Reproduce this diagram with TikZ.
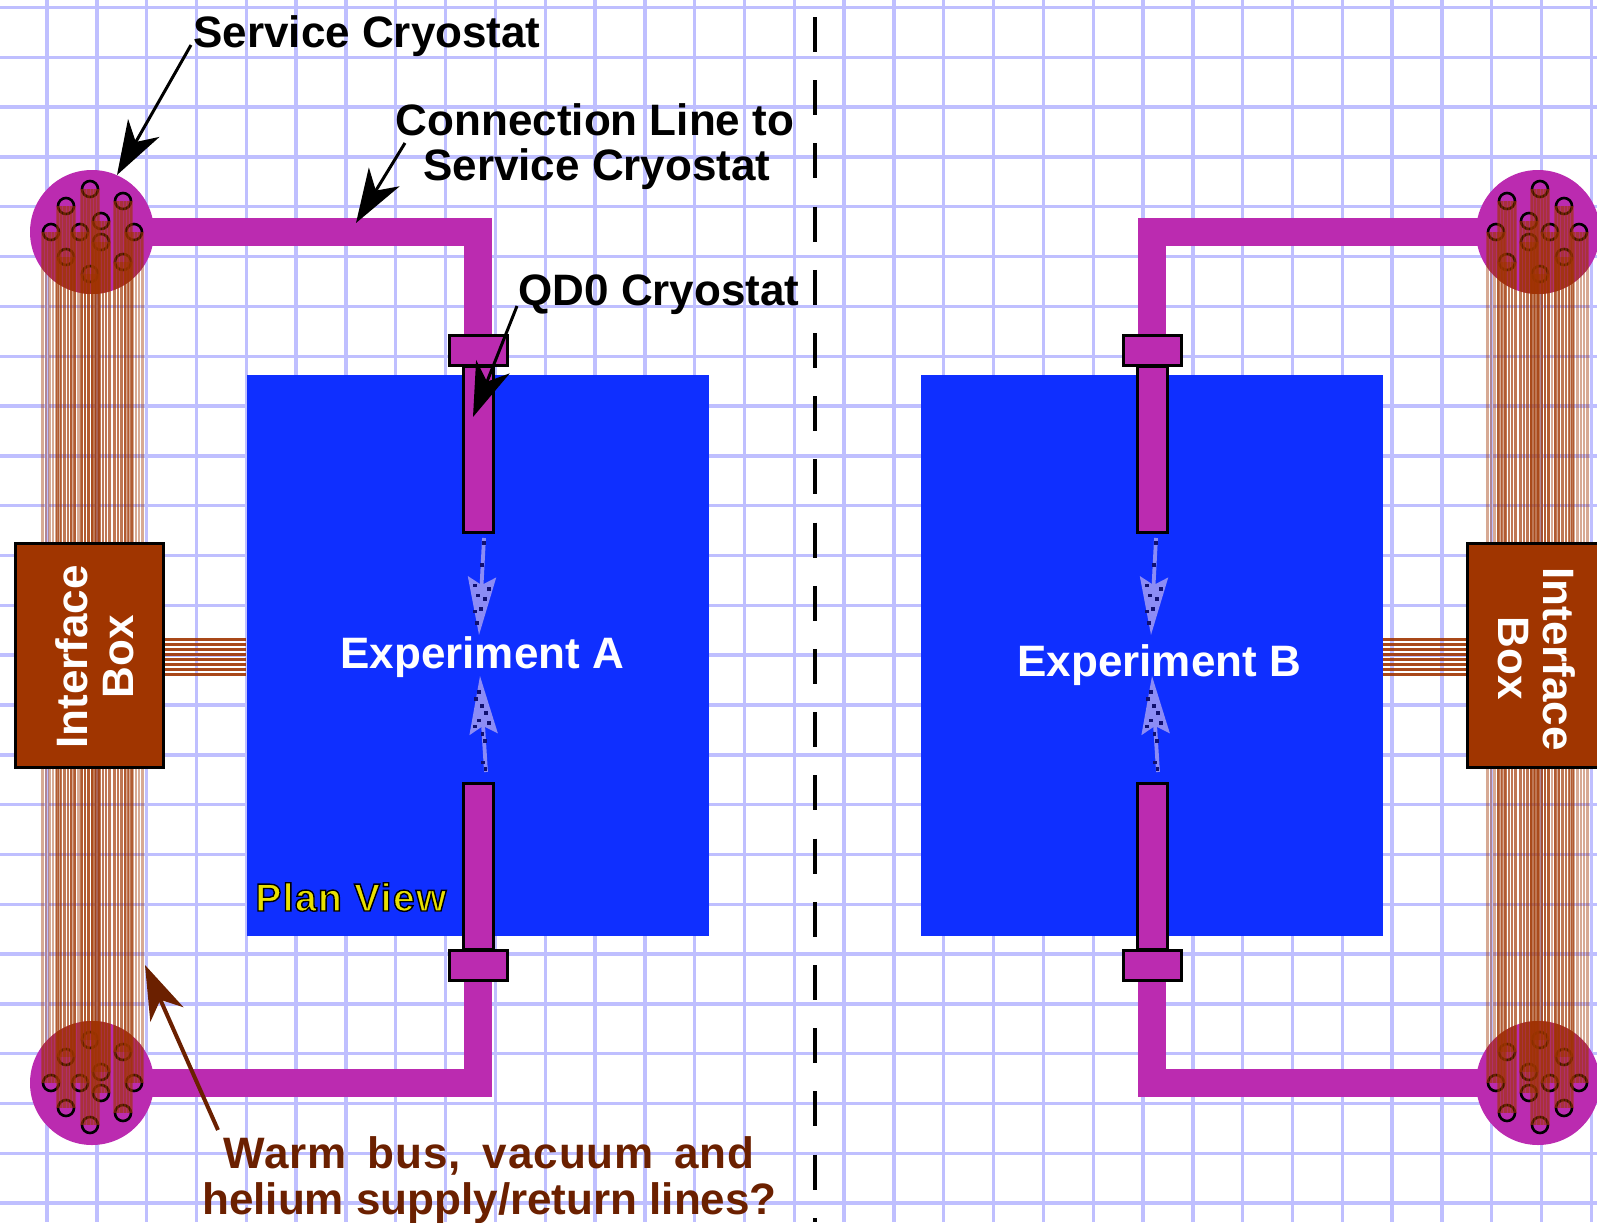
\documentclass[tikz,border=0pt]{standalone}
\usepackage{fontspec}
\setmainfont{Liberation Sans}
\newfontfamily\planfont[LetterSpace=3.5]{Liberation Sans}
\newfontfamily\warmfont[LetterSpace=2.2]{Liberation Sans}
\usetikzlibrary{arrows.meta}
\definecolor{gridc}{HTML}{BFBFFF}
\definecolor{expblue}{HTML}{0F2FFF}
\definecolor{cryo}{HTML}{BB2BB0}
\definecolor{ibox}{HTML}{A03500}
\definecolor{warm}{HTML}{6B2000}
\definecolor{pale}{HTML}{8C8CF5}
\definecolor{dotc}{HTML}{101070}
\definecolor{planyel}{HTML}{E8E000}
\pgfdeclarelayer{gridl}
\pgfdeclarelayer{pipel}
\pgfsetlayers{gridl,pipel,main}
\tikzset{
  gridline/.style={gridc,line width=1.7pt},
  expbox/.style={rectangle,fill=expblue,inner sep=0pt},
  pipe/.style={cryo,line width=14pt,line join=miter},
  hub/.style={circle,fill=cryo,inner sep=0pt,minimum size=62pt},
  ring/.style={black,line width=1.3pt},
  strip/.style={ibox,opacity=.42,line width=1.2pt},
  hubshade/.style={fill=ibox,opacity=.4},
  hstrip/.style={ibox,opacity=.9,line width=1.05pt},
  cryobar/.style={rectangle,draw=black,fill=cryo,line width=1.5pt,inner sep=0pt},
  ifbox/.style={rectangle,draw=black,fill=ibox,line width=1.5pt,inner sep=0pt},
  lbl/.style={font=\fontsize{22}{22}\selectfont\bfseries,inner sep=0pt,anchor=base west},
  lblc/.style={font=\fontsize{22}{22}\selectfont\bfseries,inner sep=0pt,anchor=base},
  bigarrow/.style={line width=1.5pt,-{Stealth[length=27pt,width=18pt,inset=8pt]}},
  palearrow/.style={pale,line width=1.9pt,-{Stealth[length=29pt,width=14pt,inset=4pt]}},
  divider/.style={black,line width=1.7pt,dash pattern=on 17.5pt off 14.1pt},
}
\newcommand\pxrect[6]{%
  \pgfmathsetmacro\rw{(#5-#3)/2}\pgfmathsetmacro\rh{(#6-#4)/2}%
  \pgfmathsetmacro\rx{(#5+#3)/2}\pgfmathsetmacro\ry{(#6+#4)/2}%
  \node[#2,minimum width=\rw pt,minimum height=\rh pt] (#1) at (\rx,\ry) {};}
\newcommand\hubset[4]{% name, cx, cy, mirror
  \node[hub] (#1) at (#2,#3) {};
  \foreach \dx/\dy in {-2/-43,-26/-26,31/-31,-41/0,-12/0,9/-11,9/10,42/0,-26/25,31/30,-2/42}
    \draw[ring] ({#2+#4*\dx},{#3+\dy}) circle (8);
}
\newcommand\hubshades[3]{% cx, cy, mirror; top hub strips run down from the ring, bottom hub strips run up to it
  \begin{scope}
    \clip (#1,232) circle (62);
    \foreach \dx/\dy in {-2/-43,-26/-26,31/-31,-41/0,-12/0,9/-11,9/10,42/0,-26/25,31/30,-2/42}
      \fill[hubshade] ({#1+#3*\dx-9},{232+\dy}) rectangle ({#1+#3*\dx+9},300);
  \end{scope}
  \begin{scope}
    \clip (#1,1083) circle (62);
    \foreach \dx/\dy in {-2/-43,-26/-26,31/-31,-41/0,-12/0,9/-11,9/10,42/0,-26/25,31/30,-2/42}
      \fill[hubshade] ({#1+#3*\dx-9},1015) rectangle ({#1+#3*\dx+9},{1083+\dy});
  \end{scope}
}
\newcommand\bundle[2]{% cx, mirror
  \foreach \dx/\dy in {-2/-43,-26/-26,31/-31,-41/0,-12/0,9/-11,9/10,42/0,-26/25,31/30,-2/42}
    \foreach \o in {-8.5,-5.1,-1.7,1.7,5.1,8.5}
      \draw[strip] ({#1+#2*\dx+\o},{232+\dy}) -- ({#1+#2*\dx+\o},{1083+\dy});
}
\newcommand\paleset[1]{%
  \begin{scope}[xshift=#1*0.5pt]
    \coordinate (pu1) at (484,538); \coordinate (pu2) at (479,635);
    \coordinate (pd1) at (486,772); \coordinate (pd2) at (480,676);
    \draw[palearrow] (pu1) -- (pu2);
    \draw[palearrow] (pd1) -- (pd2);
    \foreach \a/\b in {253/70,247/135,235/227,255/238,243/268,232/310,268/207,225/197,225/275,237/517,228/538,247/558,258/580,237/602,268/610,225/620,248/643,255/663,250/728,257/748}
      \fill[dotc] ({400+\a/3-2},{520+\b/3-2}) rectangle +(3.6,3.6);
  \end{scope}}
\begin{document}
\begin{tikzpicture}[x=0.5pt,y=-0.5pt]
\useasboundingbox (0,0) rectangle (1597,1222);
\clip (0,0) rectangle (1597,1222);

\begin{pgfonlayer}{gridl}
  \fill[white] (0,0) rectangle (1597,1222);
  \foreach \k in {0,...,31} \draw[gridline] ({47+49.82*\k},0) -- ({47+49.82*\k},1222);
  \foreach \k in {0,...,24} \draw[gridline] (0,{7.5+49.82*\k}) -- (1597,{7.5+49.82*\k});
  \pxrect{expA}{expbox}{246.5}{375}{709}{936}
  \pxrect{expB}{expbox}{921}{375}{1383}{936}
\end{pgfonlayer}

% hubs with their ring sets
\hubset{hubTL}{92}{232}{1}
\hubset{hubBL}{92}{1083}{1}
\hubset{hubTR}{1538}{232}{-1}
\hubset{hubBR}{1538}{1083}{-1}

% warm bundles
\hubshades{92}{232}{1}
\hubshades{1538}{232}{-1}
\bundle{92}{1}
\bundle{1538}{-1}

% cryostats
\pxrect{barTA}{cryobar}{463.5}{366}{493}{532}
\pxrect{barBA}{cryobar}{463.5}{783}{493}{949}
\pxrect{barTB}{cryobar}{1137.5}{366}{1167}{532}
\pxrect{barBB}{cryobar}{1137.5}{783}{1167}{949}
\pxrect{flTA}{cryobar}{449.5}{335.5}{507}{365}
\pxrect{flBA}{cryobar}{449.5}{950}{507}{980}
\pxrect{flTB}{cryobar}{1123.5}{335.5}{1181}{365}
\pxrect{flBB}{cryobar}{1123.5}{950}{1181}{980}

\begin{pgfonlayer}{pipel}
  \draw[pipe] (hubTL.center) -| (flTA.center);
  \draw[pipe] (hubBL.center) -| (flBA.center);
  \draw[pipe] (hubTR.center) -| (flTB.center);
  \draw[pipe] (hubBR.center) -| (flBB.center);
\end{pgfonlayer}

% interface boxes
\pxrect{ibL}{ifbox}{15.5}{543.5}{163.5}{767.5}
\pxrect{ibR}{ifbox}{1467.5}{543.5}{1630}{767.5}
\foreach \k in {0,...,7}{
  \draw[hstrip] (ibL.east |- 0,{639.5+5*\k}) -- (expA.west |- 0,{639.5+5*\k});
  \draw[hstrip] (expB.east |- 0,{639.5+5*\k}) -- (ibR.west |- 0,{639.5+5*\k});
}
\node[font=\fontsize{22}{22}\selectfont\bfseries,white,rotate=90,anchor=base,inner sep=0pt] (ifA1) at (87,657) {Interface};
\node[font=\fontsize{22}{22}\selectfont\bfseries,white,rotate=90,anchor=base,inner sep=0pt] (ifA2) at (133,657) {Box};
\node[font=\fontsize{22}{22}\selectfont\bfseries,white,rotate=-90,anchor=base,inner sep=0pt] (ifB1) at (1543,659) {Interface};
\node[font=\fontsize{22}{22}\selectfont\bfseries,white,rotate=-90,anchor=base,inner sep=0pt] (ifB2) at (1498,658) {Box};

% divider
\coordinate (divT) at (815,17);
\coordinate (divB) at (815,1222);
\draw[divider] (divT) -- (divB);

% experiment interior
\paleset{0}
\paleset{672}
\node[lbl,white] (tA) at (340,668) {Experiment A};
\node[lbl,white] (tB) at (1017,676) {Experiment B};
\node[inner sep=0pt,anchor=base west,text=planyel,font=\fontsize{19.5}{19.5}\planfont\bfseries] (plan) at (255,911) {\special{pdf:code q 2 Tr 0.7 w 0 0 0 RG}Plan View\special{pdf:code Q}};

% labels
\node[lbl] (tSC) at (193,47) {Service Cryostat};
\node[lblc] (tCL1) at (595,135) {Connection Line to};
\node[lblc] (tCL2) at (597,180) {Service Cryostat};
\node[lbl] (tQD) at (518,305) {QD0 Cryostat};
\node[lblc,text=warm] (tW1) at (489,1168) {\warmfont\bfseries\makebox[265.5pt][s]{Warm bus, vacuum and}};
\node[lblc,text=warm] (tW2) at (489.5,1214) {helium supply/return lines?};

% callouts
\coordinate (a1s) at (191,45);  \coordinate (a1e) at (117,175);
\coordinate (a2s) at (405,143); \coordinate (a2e) at (356,223);
\coordinate (a3s) at (517,306); \coordinate (a3e) at (473,417);
\coordinate (a4s) at (218,1130);\coordinate (a4e) at (145,965);
\draw[bigarrow] (a1s) -- (a1e);
\draw[bigarrow] (a2s) -- (a2e);
\draw[bigarrow] (a3s) -- (a3e);
\draw[bigarrow,warm,line width=2pt] (a4s) -- (a4e);
\end{tikzpicture}
\end{document}
